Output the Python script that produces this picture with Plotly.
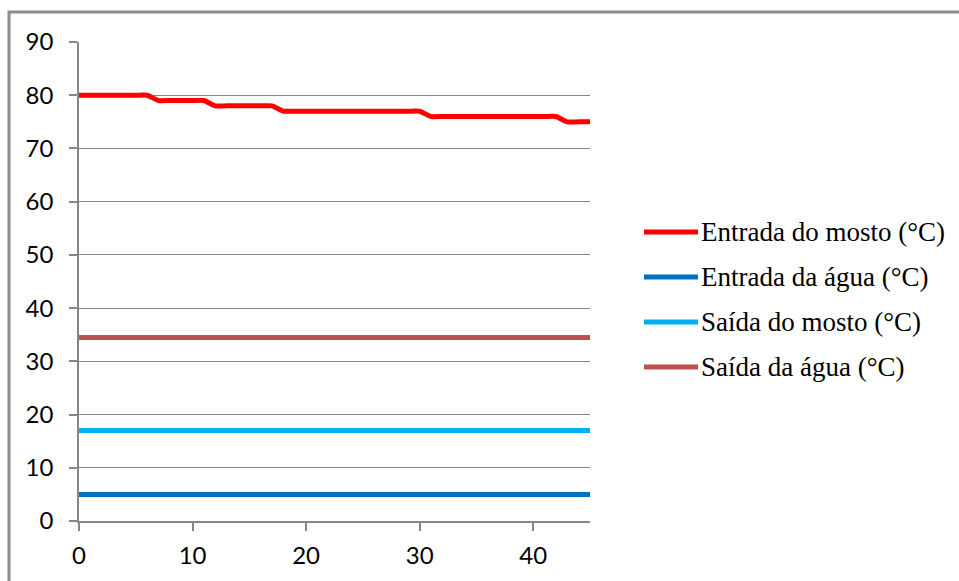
import plotly.graph_objects as go

# Time (min) and temperatures (°C)
tempo = list(range(0, 46))
entrada_mosto = [80] * 7 + [79] * 5 + [78] * 6 + [77] * 13 + [76] * 12 + [75] * 3
entrada_agua = [5] * 46
saida_mosto = [17] * 46
saida_agua = [34.5] * 46

series = [
    ("Entrada do mosto (°C)", entrada_mosto, "#FF0000"),
    ("Entrada da água (°C)", entrada_agua, "#0070C0"),
    ("Saída do mosto (°C)", saida_mosto, "#00B0F0"),
    ("Saída da água (°C)", saida_agua, "#C0504D"),
]

W, H = 959, 581
ML, MR, MT, MB = 79, 369, 42, 60
plot_w = W - ML - MR
plot_h = H - MT - MB


def px_to_paper_x(px):
    return (px - ML) / plot_w


def px_to_paper_y(py):
    return (H - MB - py) / plot_h


fig = go.Figure()
for name, vals, color in series:
    fig.add_trace(go.Scatter(
        x=tempo, y=vals, mode="lines", name=name,
        line=dict(color=color, width=5, shape="spline", smoothing=0.5),
        showlegend=False,
    ))

shapes = []
annotations = []

# Legend drawn with short line samples and serif labels
leg_y = [232, 277, 322, 367]
for (name, vals, color), py in zip(series, leg_y):
    yp = px_to_paper_y(py)
    shapes.append(dict(
        type="line", xref="paper", yref="paper",
        x0=px_to_paper_x(644), x1=px_to_paper_x(698), y0=yp, y1=yp,
        line=dict(color=color, width=5),
    ))
    annotations.append(dict(
        xref="paper", yref="paper", x=px_to_paper_x(699), y=yp,
        xanchor="left", yanchor="middle", showarrow=False, text=name,
        font=dict(family="Liberation Serif", size=27, color="#000000"),
    ))

# Outer chart frame
shapes.append(dict(
    type="rect", xref="paper", yref="paper",
    x0=px_to_paper_x(9), x1=px_to_paper_x(970),
    y0=px_to_paper_y(600), y1=px_to_paper_y(12),
    line=dict(color="#8C8C8C", width=3), fillcolor="rgba(0,0,0,0)",
    layer="below",
))

axis_font = dict(family="Lato", size=24, color="#000000")

fig.update_layout(
    width=W, height=H,
    margin=dict(l=ML, r=MR, t=MT, b=MB, pad=0),
    paper_bgcolor="white", plot_bgcolor="white",
    shapes=shapes, annotations=annotations,
    xaxis=dict(
        range=[0, 45], tickvals=[0, 10, 20, 30, 40],
        showgrid=False, zeroline=False,
        showline=True, linecolor="#878787", linewidth=1.5,
        ticks="outside", ticklen=8, tickcolor="#878787", tickwidth=1.5,
        tickfont=axis_font, ticklabelstandoff=4,
    ),
    yaxis=dict(
        range=[0, 90], tickvals=list(range(0, 100, 10)),
        showgrid=True, gridcolor="#878787", gridwidth=1,
        zeroline=False,
        showline=True, linecolor="#878787", linewidth=1.5,
        ticks="outside", ticklen=8, tickcolor="#878787", tickwidth=1.5,
        tickfont=axis_font, ticklabelstandoff=11,
    ),
)

fig.write_html("out.html")
